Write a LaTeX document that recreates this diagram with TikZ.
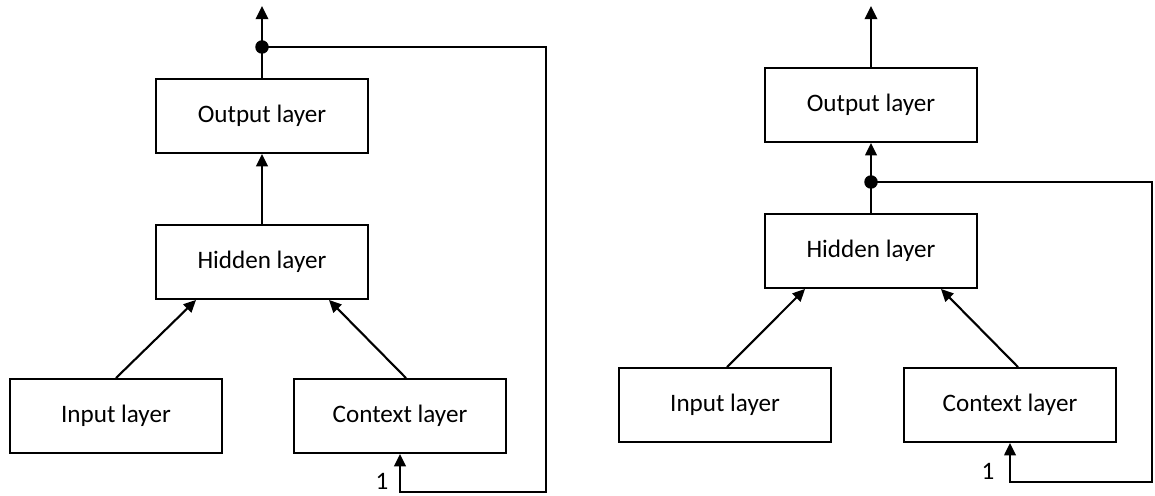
\documentclass[tikz,border=0pt]{standalone}
\usepackage{fontspec}
\setmainfont{Carlito}
\usetikzlibrary{arrows.meta}
\begin{document}
\begin{tikzpicture}[x=0.02cm,y=-0.02cm,
  layer/.style={draw,line width=1.1pt,minimum width=4.24cm,minimum height=1.48cm,inner sep=0pt,font=\fontsize{14.3}{16}\selectfont},
  conn/.style={line width=1.2pt},
  arr/.style={conn,-{Triangle[length=7pt,width=6.5pt]}},
  toparr/.style={line width=1.5pt,-{Triangle[length=7.5pt,width=7pt]}},
  junc/.style={circle,fill,inner sep=0pt,minimum size=0.27cm},
  lbl/.style={font=\fontsize{14.3}{16}\selectfont}]
\useasboundingbox (0,0) rectangle (1155,496);

% ---------- left network ----------
\node[layer] (oL) at (262,116) {Output layer};
\node[layer] (hL) at (262,262) {Hidden layer};
\node[layer] (iL) at (116,416) {Input layer};
\node[layer] (cL) at (400,416) {Context layer};
\node[junc] (dL) at (262,47) {};
\coordinate (tL) at (262,6);
\coordinate (fL) at (546,492);
\node[lbl] (oneL) at (382,481) {1};

\draw[conn] (oL.north) -- (dL.center);
\draw[toparr] (dL.center) -- (tL);
\draw[arr] (hL.north) -- (oL.south);
\draw[arr] (iL.north) -- ([xshift=-1.32cm]hL.south);
\draw[arr] ([xshift=0.12cm]cL.north) -- ([xshift=1.34cm]hL.south);
\draw[arr] (dL.center) -| (fL) -| (cL.south);

% ---------- right network ----------
\node[layer] (oR) at (871,105) {Output layer};
\node[layer] (hR) at (871,251) {Hidden layer};
\node[layer] (iR) at (725,405) {Input layer};
\node[layer] (cR) at (1010,405) {Context layer};
\node[junc] (dR) at (871,182) {};
\coordinate (tR) at (871,6);
\coordinate (fR) at (1152,482);
\node[lbl] (oneR) at (988,471) {1};

\draw[toparr] (oR.north) -- (tR);
\draw[conn] (hR.north) -- (dR.center);
\draw[arr] (dR.center) -- (oR.south);
\draw[arr] ([xshift=0.04cm]iR.north) -- ([xshift=-1.32cm]hR.south);
\draw[arr] ([xshift=0.16cm]cR.north) -- ([xshift=1.4cm]hR.south);
\draw[arr] (dR.center) -| (fR) -| (cR.south);
\end{tikzpicture}
\end{document}
